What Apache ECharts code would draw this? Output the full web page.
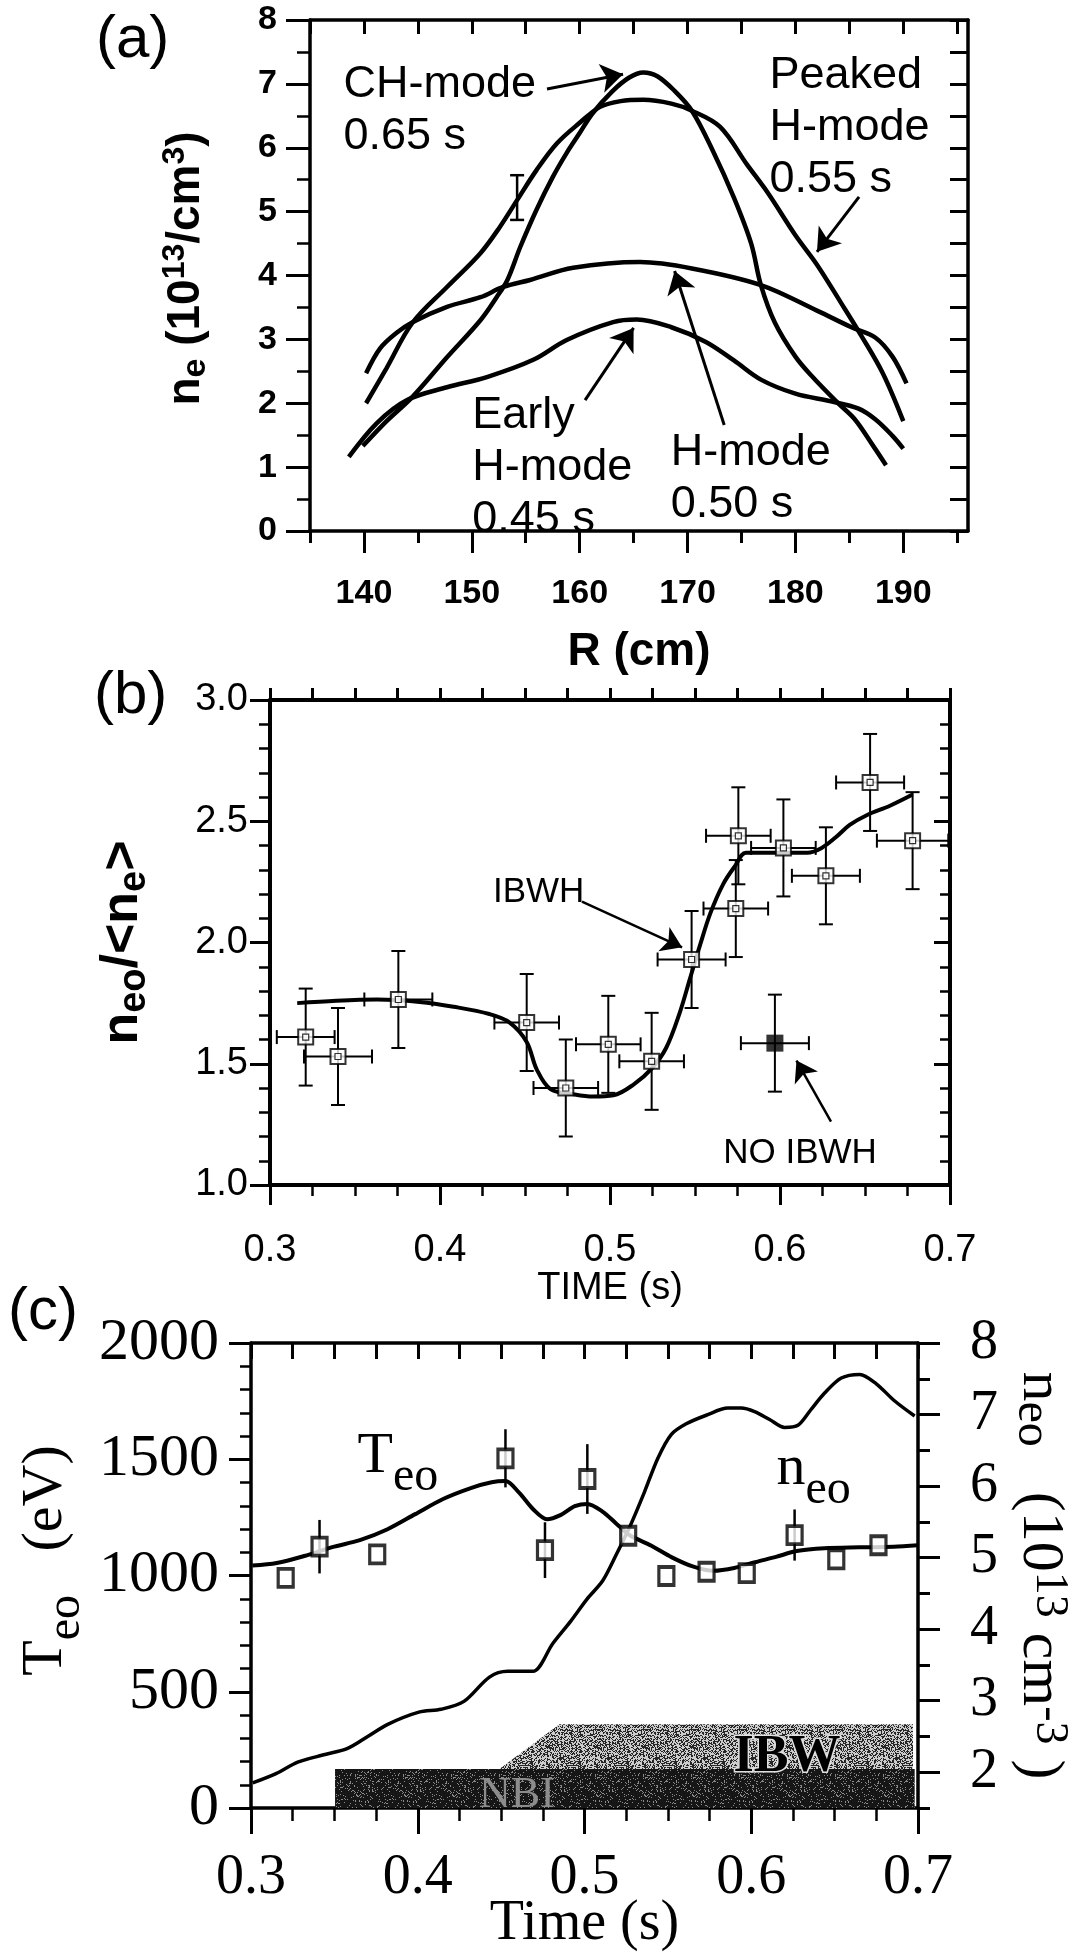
<!DOCTYPE html>
<html><head><meta charset="utf-8">
<script src="https://cdn.jsdelivr.net/npm/echarts@6/dist/echarts.min.js"></script>
<style>html,body{margin:0;padding:0;background:#fff}#c{width:1080px;height:1952px}</style>
</head><body><div id="c"></div>
<script>
// ---------------- Panel (a): density profiles n_e(R) ----------------
const aRMajor = [140,150,160,170,180,190];
const aRMinor = [135,145,155,165,175,185,195];
const aRTop   = [135,140,145,150,155,160,165,170,175,180,185,190,195];

const chR  = [139.9,142.1,144.5,147.7,150.8,152.3,153.3,154.5,156.0,157.5,158.8,160.0,161.2,163.0,164.6,165.9,167.2,168.8,170.4,172.3,174.3,175.9,176.8,178.1,180.0,181.6,183.9,185.5,187.1,188.4];
const chNe = [1.33,1.72,2.10,2.72,3.30,3.66,3.93,4.45,5.03,5.54,5.92,6.23,6.54,6.88,7.10,7.18,7.12,6.89,6.58,5.97,5.22,4.50,3.85,3.26,2.73,2.41,2.01,1.75,1.36,1.03];

const peakR  = [140.2,142.1,144.5,147.7,150.8,152.6,154.2,156.0,157.9,160.0,161.9,163.8,165.9,168.5,170.4,173.0,175.5,177.5,180.0,182.0,184.2,186.1,188.1,190.0];
const peakNe = [2.00,2.55,3.26,3.82,4.35,4.76,5.18,5.65,6.07,6.39,6.64,6.73,6.75,6.69,6.58,6.33,5.74,5.28,4.63,4.17,3.58,3.06,2.47,1.72];

const earlyR  = [138.6,141.2,144.0,147.7,151.4,155.7,158.8,163.1,165.3,168.5,171.7,174.3,176.8,180.0,183.3,185.8,187.4,189.0,190.0];
const earlyNe = [1.16,1.69,2.05,2.25,2.41,2.68,2.99,3.27,3.31,3.19,2.96,2.67,2.37,2.15,2.03,1.92,1.75,1.49,1.29];

const hR  = [140.2,141.5,143.0,144.5,147.7,150.8,152.9,155.4,159.4,165.6,170.4,176.8,182.0,185.2,187.4,189.0,190.3];
const hNe = [2.47,2.86,3.10,3.27,3.51,3.66,3.82,3.93,4.12,4.21,4.11,3.85,3.45,3.19,3.03,2.73,2.31];

const aErrR = [154.2], aErrNe = [5.22], aErrHalf = [0.35];

const aNotes   = ['CH-mode\n0.65 s', 'Peaked\nH-mode\n0.55 s', 'Early\nH-mode\n0.45 s', 'H-mode\n0.50 s'];
const aNotePos = [[138.06,6.575],[177.55,6.31],[150.0,1.0],[168.4,0.82]];
const aArrowFrom = [[156.97,6.92],[185.9,5.23],[160.5,2.05],[173.4,1.66]];
const aArrowTo   = [[164.02,7.15],[182.0,4.37],[165.0,3.18],[168.8,4.07]];

// ---------------- Panel (b): peaking factor vs time ----------------
const bTime  = [0.321,0.340,0.3755,0.451,0.474,0.499,0.5245,0.548,0.5755,0.574,0.602,0.627,0.653,0.678];
const bRatio = [1.61,1.53,1.765,1.67,1.40,1.58,1.51,1.93,2.44,2.14,2.39,2.275,2.66,2.42];
const bErrT  = [0.017,0.02,0.02,0.019,0.019,0.019,0.019,0.02,0.019,0.019,0.019,0.02,0.02,0.021];
const bErrY  = [0.2,0.2,0.2,0.2,0.2,0.2,0.2,0.2,0.2,0.2,0.2,0.2,0.2,0.2];
const bNoTime = [0.597], bNoRatio = [1.585], bNoErrT = [0.02], bNoErrY = [0.2];
const bFitT = [0.316,0.339,0.363,0.388,0.408,0.429,0.441,0.451,0.457,0.465,0.478,0.490,0.502,0.514,0.5245,0.533,0.541,0.547,0.553,0.559,0.5665,0.5735,0.58,0.592,0.604,0.616,0.6245,0.633,0.641,0.651,0.665,0.678];
const bFitR = [1.75,1.76,1.765,1.755,1.735,1.705,1.67,1.59,1.475,1.395,1.375,1.365,1.37,1.415,1.48,1.565,1.71,1.85,1.99,2.12,2.24,2.315,2.37,2.37,2.37,2.37,2.39,2.435,2.485,2.525,2.565,2.61];
const bNotes = ['IBWH','NO IBWH'];
const bNotePos = [[0.458,2.208],[0.6118,1.132]];
const bArrowFrom = [[0.4835,2.169],[0.630,1.261]];
const bArrowTo   = [[0.5424,1.980],[0.6097,1.513]];

// ---------------- Panel (c): T_eo and n_eo vs time ----------------
const cTeFitT = [0.3008,0.3154,0.332,0.3487,0.3653,0.3819,0.3985,0.4152,0.4318,0.4443,0.4526,0.4609,0.4692,0.4775,0.4859,0.4942,0.5017,0.5108,0.5191,0.5274,0.5399,0.5524,0.5649,0.5773,0.5898,0.6023,0.6148,0.6272,0.6439,0.6647,0.6854,0.70];
const cTeFit  = [1043,1054,1084,1122,1152,1199,1264,1329,1376,1401,1406,1355,1285,1242,1261,1298,1308,1275,1223,1172,1129,1078,1039,1020,1032,1057,1080,1105,1117,1121,1124,1130];
const cTeTime = [0.3208,0.3411,0.3757,0.4526,0.4763,0.5017,0.5262,0.5491,0.5732,0.5973,0.626,0.651,0.6763];
const cTe     = [990,1124,1091,1504,1109,1415,1171,998,1016,1010,1174,1069,1130];
const cTeErr  = [0,115,0,125,120,150,0,0,0,0,110,0,0];
const cNeT = [0.301,0.315,0.328,0.343,0.3576,0.370,0.382,0.4007,0.414,0.4277,0.443,0.454,0.469,0.481,0.492,0.5015,0.511,0.519,0.5275,0.536,0.544,0.552,0.561,0.573,0.586,0.594,0.602,0.611,0.620,0.628,0.6355,0.644,0.654,0.665,0.675,0.6855,0.698];
const cNe  = [1.85,1.98,2.14,2.24,2.33,2.50,2.67,2.84,2.88,2.99,3.33,3.41,3.41,3.80,4.12,4.42,4.68,5.04,5.45,5.92,6.39,6.72,6.87,6.99,7.09,7.09,7.04,6.93,6.82,6.85,7.06,7.30,7.51,7.56,7.43,7.20,6.98];
const cNeTicks = [2,3,4,5,6,7,8];
const cNeMinor = [1.5,2.5,3.5,4.5,5.5,6.5,7.5];
const nbiT  = [0.3504,0.3504,0.698,0.698];
const nbiTe = [0,168,168,0];
const ibwT  = [0.449,0.485,0.697,0.697];
const ibwTe = [168,360,360,168];

// ---------------- styling ----------------
const SANS = "'Liberation Sans', Arial, Helvetica, sans-serif";
const SERIF = "'Liberation Serif', 'Times New Roman', Times, serif";
const BLACK = '#000';
const zip = (a, b) => a.map((v, i) => [v, b[i]]);
const axLine = w => ({show:true, onZero:false, lineStyle:{color:BLACK, width:w}});
const tick = (len, inside, extra) => Object.assign({show:true, length:len, inside:!!inside, lineStyle:{color:BLACK, width:3}}, extra || {});
const minor = (n, len) => ({show:true, splitNumber:n, length:len, lineStyle:{color:BLACK, width:2.5}});
const off = {show:false};
function richStyles(family, weight, mainSize, lineH, subSize, supSize) {
  return {
    m:{fontFamily:family, fontWeight:weight, fontSize:mainSize, color:BLACK, lineHeight:lineH, verticalAlign:'middle'},
    s:{fontFamily:family, fontWeight:weight, fontSize:subSize, color:BLACK, lineHeight:subSize, verticalAlign:'bottom'},
    p:{fontFamily:family, fontWeight:weight, fontSize:supSize || subSize, color:BLACK, lineHeight:supSize || subSize, verticalAlign:'top'}
  };
}
// stippled fill texture (deterministic dot pattern) imitating the half-tone bands
function stipple(base, dot, threshold) {
  const n = 48, cv = document.createElement('canvas');
  cv.width = n; cv.height = n;
  const g = cv.getContext('2d');
  g.fillStyle = base; g.fillRect(0, 0, n, n);
  g.fillStyle = dot;
  for (let y = 0; y < n; y++) {
    for (let x = 0; x < n; x++) {
      const h = (((x + 1) * 73856093) ^ ((y + 1) * 19349663)) >>> 0;
      if ((h % 997) < threshold) g.fillRect(x, y, 1, 1);
    }
  }
  return {image: cv, repeat: 'repeat'};
}

function errRender(cap, lw) {
  return function (params, api) {
    const x = api.value(0), y = api.value(1), ex = api.value(2), ey = api.value(3);
    const st = {stroke:BLACK, lineWidth:lw};
    const ch = [];
    if (ey > 0) {
      const a = api.coord([x, y + ey]), b = api.coord([x, y - ey]);
      ch.push({type:'line', shape:{x1:a[0], y1:a[1], x2:b[0], y2:b[1]}, style:st});
      if (cap > 0) {
        ch.push({type:'line', shape:{x1:a[0]-cap, y1:a[1], x2:a[0]+cap, y2:a[1]}, style:st});
        ch.push({type:'line', shape:{x1:b[0]-cap, y1:b[1], x2:b[0]+cap, y2:b[1]}, style:st});
      }
    }
    if (ex > 0) {
      const l = api.coord([x - ex, y]), r = api.coord([x + ex, y]);
      ch.push({type:'line', shape:{x1:l[0], y1:l[1], x2:r[0], y2:r[1]}, style:st});
      if (cap > 0) {
        ch.push({type:'line', shape:{x1:l[0], y1:l[1]-cap, x2:l[0], y2:l[1]+cap}, style:st});
        ch.push({type:'line', shape:{x1:r[0], y1:r[1]-cap, x2:r[0], y2:r[1]+cap}, style:st});
      }
    }
    return {type:'group', children:ch};
  };
}
function polyRender(xs, ys, fill) {
  return function (params, api) {
    const pts = xs.map((x, i) => api.coord([x, ys[i]]));
    return {type:'polygon', shape:{points:pts}, style:{fill:fill}};
  };
}
function lineS(xs, ys, xi, yi, w, extra) {
  return Object.assign({type:'line', xAxisIndex:xi, yAxisIndex:yi, data:zip(xs, ys), smooth:0.35,
    symbol:'none', showSymbol:false, lineStyle:{color:BLACK, width:w}, z:3, silent:true}, extra || {});
}
function arrows(from, to, w, size) {
  return {silent:true, symbol:['none','arrow'], symbolSize:size, label:{show:false},
    lineStyle:{color:BLACK, width:w, type:'solid'}, emphasis:{disabled:true},
    data: from.map((f, i) => [{coord:f}, {coord:to[i]}])};
}
function notes(texts, pos, label) {
  return {silent:true, symbol:'rect', symbolSize:1, itemStyle:{color:'rgba(0,0,0,0)'},
    label:Object.assign({show:true, color:BLACK}, label),
    data: texts.map((t, i) => ({coord:pos[i], value:0, label:{formatter:t}}))};
}

const nbiFill = stipple('#161616', '#8a8a8a', 110);
const ibwFill = stipple('#cccccc', '#262626', 450);

const chart = echarts.init(document.getElementById('c'), null, {renderer:'canvas', width:1080, height:1952});

const option = {
  animation:false,
  backgroundColor:'#fff',
  title:[
    {text:'(a)', left:96, top:10, padding:0, textStyle:{fontFamily:SANS, fontSize:60, fontWeight:'normal', color:BLACK}},
    {text:'(b)', left:94, top:666, padding:0, textStyle:{fontFamily:SANS, fontSize:60, fontWeight:'normal', color:BLACK}},
    {text:'(c)', left:8, top:1282, padding:0, textStyle:{fontFamily:SANS, fontSize:60, fontWeight:'normal', color:BLACK}}
  ],
  grid:[
    {left:310, top:20, width:658, height:511, containLabel:false, outerBoundsMode:'none'},
    {left:270, top:700, width:680, height:485, containLabel:false, outerBoundsMode:'none'},
    {left:251, top:1343, width:667, height:465, containLabel:false, outerBoundsMode:'none'}
  ],
  xAxis:[
    {gridIndex:0, type:'value', min:135, max:196, position:'bottom', axisLine:axLine(3.5),
     axisTick:tick(22, false, {customValues:aRMajor}),
     axisLabel:{customValues:aRMajor, margin:46, fontFamily:SANS, fontSize:34, fontWeight:'bold', color:BLACK},
     splitLine:off, name:'R (cm)', nameLocation:'middle', nameGap:98, nameMoveOverlap:false,
     nameTextStyle:{fontFamily:SANS, fontSize:46, fontWeight:'bold', color:BLACK}},
    {gridIndex:0, type:'value', min:135, max:196, position:'bottom', axisLine:off,
     axisTick:tick(12, false, {customValues:aRMinor}), axisLabel:off, splitLine:off},
    {gridIndex:0, type:'value', min:135, max:196, position:'top', axisLine:axLine(3.5),
     axisTick:tick(14, true, {customValues:aRTop}), axisLabel:off, splitLine:off},
    {gridIndex:1, type:'value', min:0.3, max:0.7, interval:0.1, position:'bottom', axisLine:axLine(4),
     axisTick:tick(20, false), minorTick:minor(4, 11),
     axisLabel:{margin:47, fontFamily:SANS, fontSize:38, color:BLACK, formatter:v => v.toFixed(1)},
     splitLine:off, minorSplitLine:off, name:'TIME (s)', nameLocation:'middle', nameGap:85, nameMoveOverlap:false,
     nameTextStyle:{fontFamily:SANS, fontSize:38, color:BLACK}},
    {gridIndex:1, type:'value', min:0.3, max:0.7, interval:0.025, position:'top', axisLine:axLine(4),
     axisTick:tick(12, false), axisLabel:off, splitLine:off},
    {gridIndex:2, type:'value', min:0.3, max:0.7, interval:0.1, position:'bottom', axisLine:axLine(3.5),
     axisTick:tick(26, false), minorTick:minor(4, 13),
     axisLabel:{margin:42, fontFamily:SERIF, fontSize:56, color:BLACK, formatter:v => v.toFixed(1)},
     splitLine:off, minorSplitLine:off, name:'Time (s)', nameLocation:'middle', nameGap:88, nameMoveOverlap:false,
     nameTextStyle:{fontFamily:SERIF, fontSize:56, color:BLACK}},
    {gridIndex:2, type:'value', min:0.3, max:0.7, interval:0.025, position:'top', axisLine:axLine(3.5),
     axisTick:tick(16, true), axisLabel:off, splitLine:off}
  ],
  yAxis:[
    {gridIndex:0, type:'value', min:0, max:8, interval:1, position:'left', axisLine:axLine(3.5),
     axisTick:tick(24, false), minorTick:minor(2, 13),
     axisLabel:{margin:33, fontFamily:SANS, fontSize:34, fontWeight:'bold', color:BLACK},
     splitLine:off, minorSplitLine:off,
     name:'{m|n}{s|e}{m| (10}{p|13}{m|/cm}{p|3}{m|)}', nameLocation:'middle', nameRotate:90, nameGap:97, nameMoveOverlap:false,
     nameTextStyle:{padding:[0,0,0,14], rich:richStyles(SANS, 'bold', 46, 54, 34, 32)}},
    {gridIndex:0, type:'value', min:0, max:8, interval:0.5, position:'right', axisLine:axLine(3.5),
     axisTick:tick(18, true), axisLabel:off, splitLine:off},
    {gridIndex:1, type:'value', min:1, max:3, interval:0.5, position:'left', axisLine:axLine(4),
     axisTick:tick(20, false), minorTick:minor(5, 11),
     axisLabel:{margin:22, fontFamily:SANS, fontSize:38, color:BLACK, formatter:v => v.toFixed(1)},
     splitLine:off, minorSplitLine:off,
     name:'{m|n}{s|eo}{m|/<n}{s|e}{m|>}', nameLocation:'middle', nameRotate:90, nameGap:116, nameMoveOverlap:false,
     nameTextStyle:{rich:richStyles(SANS, 'bold', 52, 62, 38)}},
    {gridIndex:1, type:'value', min:1, max:3, interval:0.5, position:'right', axisLine:axLine(4),
     axisTick:tick(16, true), minorTick:minor(5, 10), axisLabel:off, splitLine:off, minorSplitLine:off},
    {gridIndex:2, type:'value', min:0, max:2000, interval:500, position:'left', axisLine:axLine(3.5),
     axisTick:tick(22, false), minorTick:minor(5, 11),
     axisLabel:{margin:32, fontFamily:SERIF, fontSize:60, color:BLACK, formatter:v => String(v)},
     splitLine:off, minorSplitLine:off,
     name:'{m|T}{s|eo}{m|   (eV)}', nameLocation:'middle', nameRotate:90, nameGap:161, nameMoveOverlap:false,
     nameTextStyle:{padding:[0,0,0,30], rich:richStyles(SERIF, 'normal', 58, 88, 48)}},
    {gridIndex:2, type:'value', min:1.5, max:8, position:'right', axisLine:axLine(3.5),
     axisTick:tick(22, false, {customValues:cNeTicks}),
     axisLabel:{customValues:cNeTicks, margin:52, fontFamily:SERIF, fontSize:56, color:BLACK, formatter:v => String(v)},
     splitLine:off,
     name:'{m|n}{s|eo}{m|   (10}{p|13}{m| cm}{p|-3}{m| )}', nameLocation:'middle', nameRotate:-90, nameGap:90, nameMoveOverlap:false,
     nameTextStyle:{rich:richStyles(SERIF, 'normal', 60, 64, 48, 46)}},
    {gridIndex:2, type:'value', min:1.5, max:8, position:'right', axisLine:off,
     axisTick:tick(12, false, {customValues:cNeMinor}), axisLabel:off, splitLine:off}
  ],
  series:[
    // ---- (a)
    lineS(chR, chNe, 0, 0, 4.5, {
      markLine:arrows(aArrowFrom, aArrowTo, 3, 22),
      markPoint:notes(aNotes, aNotePos, {position:'right', distance:0, fontFamily:SANS, fontSize:45, lineHeight:52})}),
    lineS(peakR, peakNe, 0, 0, 4.5),
    lineS(earlyR, earlyNe, 0, 0, 4.5),
    lineS(hR, hNe, 0, 0, 4.5),
    {type:'custom', xAxisIndex:0, yAxisIndex:0, renderItem:errRender(7, 2.5), silent:true, z:4,
     encode:{x:0, y:1}, data:aErrR.map((r, i) => [r, aErrNe[i], 0, aErrHalf[i]])},
    // ---- (b)
    {type:'custom', xAxisIndex:3, yAxisIndex:2, renderItem:errRender(7, 2), silent:true, z:2,
     encode:{x:0, y:1}, data:bTime.map((t, i) => [t, bRatio[i], bErrT[i], bErrY[i]])},
    {type:'custom', xAxisIndex:3, yAxisIndex:2, renderItem:errRender(7, 2), silent:true, z:2,
     encode:{x:0, y:1}, data:bNoTime.map((t, i) => [t, bNoRatio[i], bNoErrT[i], bNoErrY[i]])},
    lineS(bFitT, bFitR, 3, 2, 4, {
      markLine:arrows(bArrowFrom, bArrowTo, 2.5, 20),
      markPoint:notes(bNotes, bNotePos, {position:'inside', fontFamily:SANS, fontSize:35})}),
    {type:'scatter', xAxisIndex:3, yAxisIndex:2, data:zip(bTime, bRatio), symbol:'rect', symbolSize:15,
     itemStyle:{color:'#fff', borderColor:BLACK, borderWidth:2}, z:5, silent:true},
    {type:'scatter', xAxisIndex:3, yAxisIndex:2, data:zip(bTime, bRatio), symbol:'rect', symbolSize:6,
     itemStyle:{color:'#fff', borderColor:BLACK, borderWidth:1.2}, z:6, silent:true},
    {type:'scatter', xAxisIndex:3, yAxisIndex:2, data:zip(bNoTime, bNoRatio), symbol:'rect', symbolSize:17,
     itemStyle:{color:BLACK}, z:5, silent:true},
    // ---- (c)
    {type:'custom', xAxisIndex:5, yAxisIndex:4, renderItem:polyRender(nbiT, nbiTe, nbiFill), silent:true, z:1,
     encode:{x:0, y:1}, data:[[nbiT[0], nbiTe[1]]]},
    {type:'custom', xAxisIndex:5, yAxisIndex:4, renderItem:polyRender(ibwT, ibwTe, ibwFill), silent:true, z:1,
     encode:{x:0, y:1}, data:[[ibwT[0], ibwTe[1]]]},
    lineS(cNeT, cNe, 5, 5, 3.5, {smooth:0.3}),
    lineS(cTeFitT, cTeFit, 5, 4, 4, {smooth:0.3,
      markPoint:{silent:true, symbol:'rect', symbolSize:1, itemStyle:{color:'rgba(0,0,0,0)'},
        data:[
          {coord:[0.3636,1510], value:0, label:{show:true, position:'right', distance:0, formatter:'{m|T}{s|eo}',
            rich:richStyles(SERIF, 'normal', 58, 88, 48)}},
          {coord:[0.6148,1458], value:0, label:{show:true, position:'right', distance:0, formatter:'{m|n}{s|eo}',
            rich:richStyles(SERIF, 'normal', 58, 90, 48)}},
          {coord:[0.6214,215], value:0, label:{show:true, position:'inside', formatter:'IBW',
            fontFamily:SERIF, fontSize:52, fontWeight:'bold', color:'#000', textBorderColor:'#e0e0e0', textBorderWidth:3}},
          {coord:[0.4595,52], value:0, label:{show:true, position:'inside', formatter:'NBI',
            fontFamily:SERIF, fontSize:44, color:'#8c8c8c'}}
        ]}}),
    {type:'custom', xAxisIndex:5, yAxisIndex:4, renderItem:errRender(0, 2.5), silent:true, z:4,
     encode:{x:0, y:1}, data:cTeTime.map((t, i) => [t, cTe[i], 0, cTeErr[i]])},
    {type:'scatter', xAxisIndex:5, yAxisIndex:4, data:zip(cTeTime, cTe), symbol:'rect', symbolSize:[15,18],
     itemStyle:{color:'#fff', borderColor:BLACK, borderWidth:3.5}, z:5, silent:true}
  ]
};
chart.setOption(option);
</script>
</body></html>
